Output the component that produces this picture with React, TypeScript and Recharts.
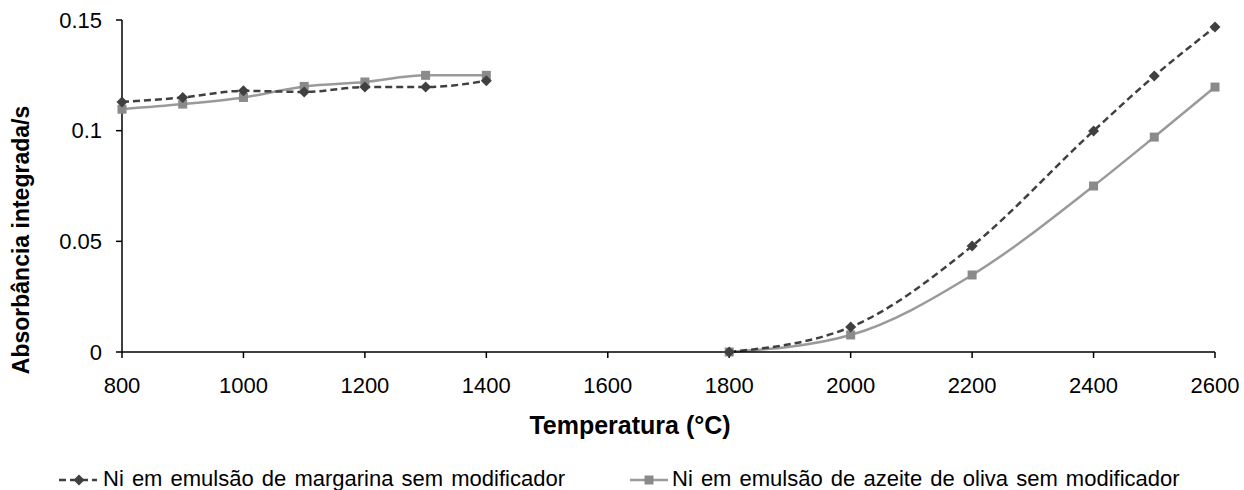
import { LineChart, Line, XAxis, YAxis, Legend } from "recharts";

const temperatures = [800, 900, 1000, 1100, 1200, 1300, 1400, 1600, 1800, 2000, 2200, 2400, 2500, 2600];
const margarina = [0.113, 0.115, 0.118, 0.1175, 0.1197, 0.1197, 0.1225, null, 0, 0.0113, 0.0479, 0.0999, 0.1247, 0.1468];
const oliva = [0.1097, 0.112, 0.115, 0.12, 0.122, 0.125, 0.125, null, 0, 0.0077, 0.0348, 0.075, 0.0971, 0.1197];
const xTicks = [800, 1000, 1200, 1400, 1600, 1800, 2000, 2200, 2400, 2600];
const yTicks = [0, 0.05, 0.1, 0.15];

const labelMargarina = "Ni em emulsão de margarina sem modificador";
const labelOliva = "Ni em emulsão de azeite de oliva sem modificador";

const data = temperatures.map((t, i) => ({ t, margarina: margarina[i], oliva: oliva[i] }));

const FONT = "'Liberation Sans', Arial, sans-serif";
const DARK = "#404040";
const GRAY_LINE = "#9a9a9a";
const GRAY_MARK = "#8a8a8a";

const Diamond = (props: any) => {
  const { cx, cy, key } = props;
  if (cx == null || cy == null) return <g key={key} />;
  const r = 5.5;
  return <path key={key} d={`M${cx},${cy - r}L${cx + r},${cy}L${cx},${cy + r}L${cx - r},${cy}Z`} fill={DARK} />;
};

const Square = (props: any) => {
  const { cx, cy, key } = props;
  if (cx == null || cy == null) return <g key={key} />;
  const s = 9;
  return <rect key={key} x={cx - s / 2} y={cy - s / 2} width={s} height={s} fill={GRAY_MARK} />;
};

const LegendContent = () => (
  <div style={{ position: "relative", height: 28, fontFamily: FONT, fontSize: 22, color: "#000" }}>
    <svg width={40} height={20} style={{ position: "absolute", left: 59, top: 8 }}>
      <line x1={0} y1={10} x2={38} y2={10} stroke={DARK} strokeWidth={2.5} strokeDasharray="7 4" />
      <path d="M20,4.5L25.5,10L20,15.5L14.5,10Z" fill={DARK} />
    </svg>
    <span style={{ position: "absolute", left: 103, top: 4, whiteSpace: "nowrap", wordSpacing: 2 }}>{labelMargarina}</span>
    <svg width={40} height={20} style={{ position: "absolute", left: 630, top: 8 }}>
      <line x1={0} y1={10} x2={38} y2={10} stroke={GRAY_LINE} strokeWidth={2.5} />
      <rect x={14.5} y={5.5} width={9} height={9} fill={GRAY_MARK} />
    </svg>
    <span style={{ position: "absolute", left: 672, top: 4, whiteSpace: "nowrap", wordSpacing: 2 }}>{labelOliva}</span>
  </div>
);

export default function App() {
  return (
    <div style={{ position: "absolute", left: 0, top: 0, background: "#fff" }}>
      <LineChart width={1244} height={490} data={data} margin={{ top: 20, right: 29, left: 0, bottom: 0 }}>
        <XAxis
          dataKey="t"
          type="number"
          domain={[800, 2600]}
          ticks={xTicks}
          height={110}
          tickSize={6}
          tickMargin={19}
          stroke="#000"
          strokeWidth={1.5}
          tick={{ fill: "#000", fontSize: 22, fontFamily: FONT }}
          label={{
            content: () => (
              <text x={630} y={434} textAnchor="middle" fontFamily={FONT} fontSize={25} fontWeight="bold" fill="#000">
                Temperatura (°C)
              </text>
            ),
          }}
        />
        <YAxis
          type="number"
          domain={[0, 0.15]}
          ticks={yTicks}
          width={122}
          tickSize={6}
          tickMargin={14}
          stroke="#000"
          strokeWidth={1.5}
          tick={{ fill: "#000", fontSize: 22, fontFamily: FONT }}
          label={{
            content: () => (
              <text
                x={29}
                y={240}
                transform="rotate(-90 29 240)"
                textAnchor="middle"
                fontFamily={FONT}
                fontSize={23}
                fontWeight="bold"
                fill="#000"
              >
                Absorbância integrada/s
              </text>
            ),
          }}
        />
        <Legend verticalAlign="bottom" height={28} content={LegendContent} wrapperStyle={{ left: 0, width: 1244 }} />
        <Line
          type="monotone"
          dataKey="oliva"
          stroke={GRAY_LINE}
          strokeWidth={2.5}
          dot={Square}
          activeDot={false}
          isAnimationActive={false}
        />
        <Line
          type="monotone"
          dataKey="margarina"
          stroke={DARK}
          strokeWidth={2.5}
          strokeDasharray="7 4"
          dot={Diamond}
          activeDot={false}
          isAnimationActive={false}
        />
      </LineChart>
    </div>
  );
}
